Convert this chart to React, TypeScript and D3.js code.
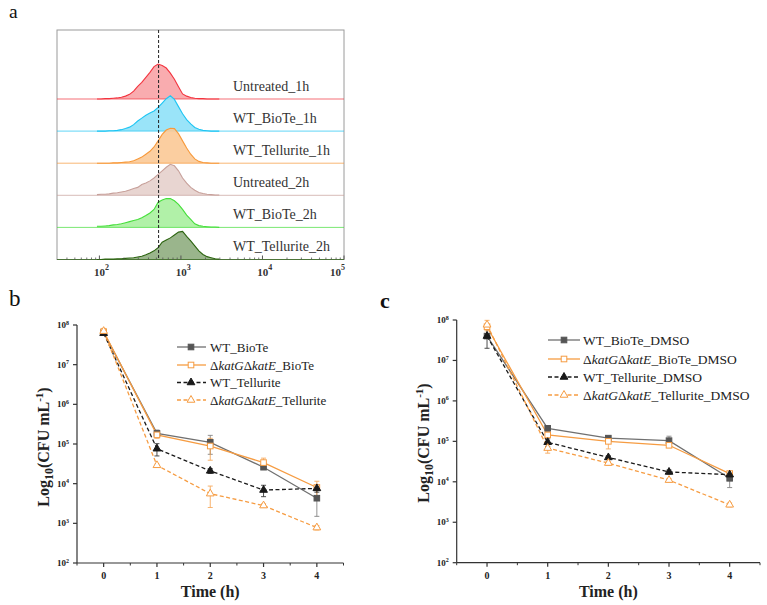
import React from 'react';
import * as d3 from 'd3';

// ---------- Panel a : flow cytometry histograms ----------
const histLogBins = [1.97, 2.02, 2.07, 2.12, 2.17, 2.22, 2.27, 2.32, 2.37, 2.42, 2.47, 2.52, 2.57, 2.62, 2.67, 2.72, 2.77, 2.82, 2.87, 2.92, 2.97, 3.02, 3.07, 3.12, 3.17, 3.22, 3.27, 3.32, 3.37, 3.42, 3.47];
const histLabels = ['Untreated_1h', 'WT_BioTe_1h', 'WT_Tellurite_1h', 'Untreated_2h', 'WT_BioTe_2h', 'WT_Tellurite_2h'];
const untreated1h = [0, 0, 1, 1, 2, 3, 5, 8, 13, 22, 35, 46, 60, 74, 90, 97, 93, 86, 72, 55, 34, 14, 8, 4, 2, 1, 1, 0, 0, 0, 0];
const wtBioTe1h = [0, 0, 0, 1, 1, 2, 4, 7, 11, 18, 28, 36, 44, 50, 56, 66, 78, 90, 98, 88, 68, 48, 32, 20, 10, 5, 2, 1, 0, 0, 0];
const wtTellurite1h = [0, 0, 0, 0, 1, 1, 2, 3, 4, 7, 12, 17, 25, 33, 45, 62, 80, 92, 97, 96, 82, 62, 42, 25, 12, 5, 2, 1, 0, 0, 0];
const untreated2h = [2, 3, 3, 4, 6, 7, 9, 11, 15, 19, 22, 30, 34, 40, 48, 58, 68, 78, 86, 82, 68, 48, 34, 22, 14, 8, 5, 3, 2, 1, 1];
const wtBioTe2h = [3, 3, 4, 5, 7, 8, 10, 13, 16, 19, 22, 27, 33, 40, 50, 70, 76, 80, 80, 74, 64, 50, 34, 22, 10, 5, 3, 2, 1, 1, 0];
const wtTellurite2h = [0, 0, 1, 1, 1, 2, 2, 3, 4, 5, 7, 9, 13, 18, 24, 33, 48, 54, 60, 68, 76, 78, 64, 52, 38, 24, 14, 8, 5, 2, 1];
const histSeries = [untreated1h, wtBioTe1h, wtTellurite1h, untreated2h, wtBioTe2h, wtTellurite2h];
const histStroke = ['#f3343f', '#1ec5f3', '#f7993a', '#c7a09a', '#45df3a', '#2c6410'];
const histFill = ['#f8a3a6', '#8fe1f8', '#fbc996', '#e6d0cc', '#a8ef9e', '#8fad80'];
const histRefValue = 532; // dashed reference line
const histTicks = [1e2, 1e3, 1e4, 1e5];
const histTickExp = ['2', '3', '4', '5'];

// ---------- Panels b & c : survival curves ----------
const timeHours = [0, 1, 2, 3, 4];
const timeTicks = [0, 1, 2, 3, 4];
const timeMinorTicks = [-0.5, 0.5, 1.5, 2.5, 3.5, 4.5];
const cfuTickExps = [2, 3, 4, 5, 6, 7, 8];

const bWtBioTe = [6.5e7, 1.85e5, 1.1e5, 2.6e4, 4.3e3];
const bWtBioTeErr = [5e6, 4e4, 5.5e4, 3e3, 2.8e3];
const bKoBioTe = [6.8e7, 1.7e5, 8.9e4, 3.4e4, 8.0e3];
const bKoBioTeErr = [5e6, 3e4, 5e4, 1e4, 3.5e3];
const bWtTellurite = [6.2e7, 7.6e4, 2.1e4, 6.9e3, 7.6e3];
const bWtTelluriteErr = [4e6, 2.6e4, 3e3, 2.2e3, 1.5e3];
const bKoTellurite = [7.0e7, 2.9e4, 5.6e3, 2.8e3, 7.8e2];
const bKoTelluriteErr = [1.2e7, 2e3, 3.1e3, 3e2, 1e2];

const cWtBioTe = [4.0e7, 2.1e5, 1.2e5, 1.04e5, 1.22e4];
const cWtBioTeErr = [5e6, 3e4, 1.5e4, 3e4, 5e3];
const cKoBioTe = [6.8e7, 1.44e5, 1.0e5, 8.0e4, 1.6e4];
const cKoBioTeErr = [8e6, 2e4, 3.5e4, 1e4, 2e3];
const cWtTellurite = [4.0e7, 9.5e4, 4.0e4, 1.75e4, 1.5e4];
const cWtTelluriteErr = [2e7, 2e4, 4e3, 2e3, 2e3];
const cKoTellurite = [7.6e7, 6.8e4, 2.9e4, 1.1e4, 2.7e3];
const cKoTelluriteErr = [2.2e7, 1.7e4, 3e3, 1e3, 3e2];

const SERIF = '"Liberation Serif", "Times New Roman", "DejaVu Serif", serif';
const GRAY = '#707070';
const GRAY_MARK = '#555555';
const BLACK = '#1a1a1a';
const ORANGE = '#f69c42';

type Series = {
  values: number[];
  errors: number[];
  color: string;
  markColor: string;
  dashed: boolean;
  marker: 'square' | 'triangle';
  filled: boolean;
  ko: boolean;
  base: string;
};

function LegendText({ ko, base }: { ko: boolean; base: string }) {
  if (!ko) return <>{'WT_' + base}</>;
  return (
    <>
      <tspan>Δ</tspan>
      <tspan fontStyle="italic">katG</tspan>
      <tspan>Δ</tspan>
      <tspan fontStyle="italic">katE</tspan>
      <tspan>{'_' + base}</tspan>
    </>
  );
}

function Marker({ s, cx, cy }: { s: Series; cx: number; cy: number }) {
  const fill = s.filled ? s.markColor : '#ffffff';
  if (s.marker === 'square') {
    const h = 2.8;
    return <rect x={cx - h} y={cy - h} width={2 * h} height={2 * h} fill={fill} stroke={s.markColor} strokeWidth={1} />;
  }
  const p = d3.symbol().type(d3.symbolTriangle).size(26)() as string;
  return <path d={p} transform={`translate(${cx},${cy})`} fill={fill} stroke={s.markColor} strokeWidth={1} />;
}

type Layout = {
  x0: number; x1: number; yTop: number; yBot: number;
  titleX: number; titleY: number;
  legLine0: number; legLine1: number; legMark: number; legText: number; legRows: number[]; legFont: number;
  timeLabelY: number;
};

function TimePanel({ L, series, suffix }: { L: Layout; series: Series[]; suffix: string }) {
  const x = d3.scaleLinear().domain([-0.5, 4.5]).range([L.x0, L.x1]);
  const y = d3.scaleLog().domain([1e2, 1e8]).range([L.yBot, L.yTop]);
  const line = d3.line<number>().x((_, i) => x(timeHours[i])).y((d) => y(d));
  const cx = (L.x0 + L.x1) / 2;
  return (
    <g fontFamily={SERIF}>
      {/* axes */}
      <line x1={L.x0} x2={L.x0} y1={L.yTop} y2={L.yBot} stroke="#333" strokeWidth={1.2} />
      <line x1={L.x0} x2={L.x1} y1={L.yBot} y2={L.yBot} stroke="#333" strokeWidth={1.2} />
      {cfuTickExps.map((e) => (
        <g key={e}>
          <line x1={L.x0 - 4} x2={L.x0} y1={y(10 ** e)} y2={y(10 ** e)} stroke="#333" strokeWidth={1.2} />
          <text x={L.x0 - 8} y={y(10 ** e) + 3} textAnchor="end" fontSize={9} fontWeight="bold" fill="#222">
            10<tspan dy={-3.5} fontSize={6}>{e}</tspan>
          </text>
        </g>
      ))}
      {timeTicks.map((t) => (
        <g key={t}>
          <line x1={x(t)} x2={x(t)} y1={L.yBot} y2={L.yBot + 4} stroke="#333" strokeWidth={1.2} />
          <text x={x(t)} y={L.yBot + 16} textAnchor="middle" fontSize={10} fontWeight="bold" fill="#222">{t}</text>
        </g>
      ))}
      {timeMinorTicks.map((t) => (
        <line key={t} x1={x(t)} x2={x(t)} y1={L.yBot} y2={L.yBot + 2.5} stroke="#333" strokeWidth={1} />
      ))}
      <text x={cx} y={L.timeLabelY} textAnchor="middle" fontSize={16} fontWeight="bold" fill="#222">Time (h)</text>
      <text transform={`translate(${L.titleX},${L.titleY}) rotate(-90)`} textAnchor="middle" fontSize={16} fontWeight="bold" fill="#222">
        Log<tspan dy={4} fontSize={12}>10</tspan><tspan dy={-4}>(CFU mL</tspan><tspan dy={-6} fontSize={11}>-1</tspan><tspan dy={6}>)</tspan>
      </text>
      {/* series */}
      {series.map((s, si) => (
        <g key={si}>
          <path d={line(s.values) as string} fill="none" stroke={s.color} strokeWidth={1.3} strokeDasharray={s.dashed ? '4,2.5' : undefined} />
          {s.values.map((v, i) => {
            const top = y(v + s.errors[i]);
            const bot = y(Math.max(v - s.errors[i], 100));
            const xx = x(timeHours[i]);
            return (
              <g key={i} stroke={s.color} strokeWidth={0.9} opacity={0.85}>
                <line x1={xx} x2={xx} y1={top} y2={bot} />
                <line x1={xx - 2.5} x2={xx + 2.5} y1={top} y2={top} />
                <line x1={xx - 2.5} x2={xx + 2.5} y1={bot} y2={bot} />
              </g>
            );
          })}
        </g>
      ))}
      {series.map((s, si) => (
        <g key={'m' + si}>
          {s.values.map((v, i) => (
            <Marker key={i} s={s} cx={x(timeHours[i])} cy={y(v)} />
          ))}
        </g>
      ))}
      {/* legend */}
      {series.map((s, si) => (
        <g key={'l' + si}>
          <line x1={L.legLine0} x2={L.legLine1} y1={L.legRows[si]} y2={L.legRows[si]} stroke={s.color} strokeWidth={1.3} strokeDasharray={s.dashed ? '4,2.5' : undefined} />
          <Marker s={s} cx={L.legMark} cy={L.legRows[si]} />
          <text x={L.legText} y={L.legRows[si] + 4.5} fontSize={L.legFont} fill="#222">
            <LegendText ko={s.ko} base={s.base + suffix} />
          </text>
        </g>
      ))}
    </g>
  );
}

function makeSeries(v: number[][], e: number[][]): Series[] {
  return [
    { values: v[0], errors: e[0], color: GRAY, markColor: GRAY_MARK, dashed: false, marker: 'square', filled: true, ko: false, base: 'BioTe' },
    { values: v[1], errors: e[1], color: ORANGE, markColor: ORANGE, dashed: false, marker: 'square', filled: false, ko: true, base: 'BioTe' },
    { values: v[2], errors: e[2], color: BLACK, markColor: BLACK, dashed: true, marker: 'triangle', filled: true, ko: false, base: 'Tellurite' },
    { values: v[3], errors: e[3], color: ORANGE, markColor: ORANGE, dashed: true, marker: 'triangle', filled: false, ko: true, base: 'Tellurite' },
  ];
}

function HistPanel() {
  const bx0 = 57, bx1 = 344, by0 = 30, by1 = 259.5;
  const x = d3.scaleLog().domain([10 ** 1.48, 1e5]).range([bx0, bx1]);
  const lane = d3.scaleLinear().domain([0, 5]).range([99, by1]);
  const h = d3.scaleLinear().domain([0, 100]).range([0, 36]);
  const minorTicks: number[] = [];
  for (let k = 1; k <= 4; k++) for (let m = 2; m <= 9; m++) {
    const v = m * 10 ** k;
    if (v > x.domain()[0] && v < 1e5) minorTicks.push(v);
  }
  return (
    <g fontFamily={SERIF}>
      <rect x={bx0} y={by0} width={bx1 - bx0} height={by1 - by0} fill="#fff" stroke="#9a9a9a" strokeWidth={1} />
      {histSeries.map((vals, i) => {
        const base = lane(i);
        const pts: [number, number][] = histLogBins.map((b, j) => [b, vals[j]]);
        const area = d3.area<[number, number]>()
          .x((d) => x(10 ** d[0]))
          .y0(base)
          .y1((d) => base - h(d[1]));
        const top = d3.line<[number, number]>()
          .x((d) => x(10 ** d[0]))
          .y((d) => base - h(d[1]));
        return (
          <g key={i}>
            <path d={area(pts) as string} fill={histFill[i]} opacity={0.9} />
            <line x1={bx0} x2={bx1} y1={base} y2={base} stroke={histStroke[i]} strokeWidth={1} opacity={0.7} />
            <path d={top(pts) as string} fill="none" stroke={histStroke[i]} strokeWidth={1.1} />
            <text x={233} y={base - 8.5} fontSize={14} fill="#333">{histLabels[i]}</text>
          </g>
        );
      })}
      <line x1={x(histRefValue)} x2={x(histRefValue)} y1={by0} y2={by1} stroke="#222" strokeWidth={1} strokeDasharray="3,2" />
      {minorTicks.map((v) => (
        <line key={v} x1={x(v)} x2={x(v)} y1={by1} y2={by1 - 2} stroke="#555" strokeWidth={0.8} />
      ))}
      {histTicks.map((v, i) => {
        const last = i === histTicks.length - 1;
        return (
          <g key={v}>
            <line x1={x(v)} x2={x(v)} y1={by1} y2={by1 - 4} stroke="#555" strokeWidth={1} />
            <text x={last ? bx1 + 1 : x(v) - 5.3} y={276} textAnchor={last ? 'end' : 'start'} fontSize={11} fontWeight="bold" fill="#333">
              10<tspan dy={-6} fontSize={8}>{histTickExp[i]}</tspan>
            </text>
          </g>
        );
      })}
    </g>
  );
}

export default function App() {
  const bL: Layout = {
    x0: 77, x1: 343.5, yTop: 325, yBot: 563, titleX: 49, titleY: 447,
    legLine0: 177, legLine1: 206, legMark: 191, legText: 210, legRows: [347, 365, 382.5, 400], legFont: 13,
    timeLabelY: 597,
  };
  const cL: Layout = {
    x0: 456.7, x1: 760, yTop: 320, yBot: 562.7, titleX: 429, titleY: 443,
    legLine0: 548, legLine1: 580, legMark: 564, legText: 583, legRows: [340, 359, 377, 395], legFont: 13.5,
    timeLabelY: 597,
  };
  const bSeries = makeSeries([bWtBioTe, bKoBioTe, bWtTellurite, bKoTellurite], [bWtBioTeErr, bKoBioTeErr, bWtTelluriteErr, bKoTelluriteErr]);
  const cSeries = makeSeries([cWtBioTe, cKoBioTe, cWtTellurite, cKoTellurite], [cWtBioTeErr, cKoBioTeErr, cWtTelluriteErr, cKoTelluriteErr]);
  return (
    <svg width={767} height={605} style={{ position: 'absolute', left: 0, top: 0, background: '#fff' }} fontFamily={SERIF}>
      <rect width={767} height={605} fill="#fff" />
      <text x={9} y={18} fontSize={19.5} fill="#111">a</text>
      <text x={9} y={306} fontSize={23} fill="#111">b</text>
      <text x={380} y={308} fontSize={22} fontWeight="bold" fill="#111">c</text>
      <HistPanel />
      <TimePanel L={bL} series={bSeries} suffix="" />
      <TimePanel L={cL} series={cSeries} suffix="_DMSO" />
    </svg>
  );
}
